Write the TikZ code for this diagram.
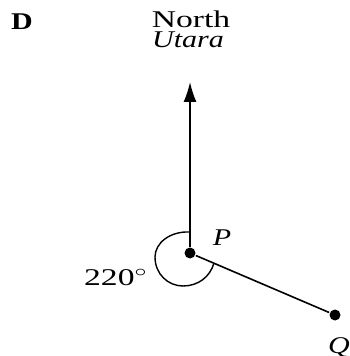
\documentclass[tikz,border=0pt]{standalone}
\usepackage{fontspec}
\setmainfont{Liberation Serif}
\usetikzlibrary{arrows.meta}
\newcommand{\wide}[2][1.25]{\scalebox{#1}[1]{#2}}
\tikzset{
  dot/.style={circle,fill,inner sep=0pt,minimum size=5.5pt},
  lbl/.style={inner sep=0pt,anchor=base,font=\fontsize{12}{14}\selectfont}
}
\begin{document}
\begin{tikzpicture}[x=0.5pt,y=-0.5pt,line width=0.8pt]
\useasboundingbox (0,0) rectangle (349,356);
\node[lbl] (labelD) at (22,30) {\wide{\textbf{D}}};
\node[lbl] (north) at (191,28) {\wide[1.4]{North}};
\node[lbl] (utara) at (188,48) {\wide{\textit{Utara}}};
\node[dot] (P) at (190,253) {};
\node[dot] (Q) at (335,315) {};
\coordinate (tip) at (190,82);
\draw[-{Latex[length=10pt,width=6.5pt]}] (P) -- (tip);
\draw (P) -- (Q);
\draw[line width=0.7pt] (190,232) .. controls (170,231) and (155,243) .. (155,257)
  .. controls (155,274) and (168,286) .. (183,286)
  .. controls (198,286) and (210,277) .. (214,263);
\node[lbl] (Plabel) at (222,245) {\wide{\textit{P}}};
\node[lbl] (angle) at (116,285) {\wide[1.4]{220$^\circ$}};
\node[lbl] (Qlabel) at (339,353) {\wide{\textit{Q}}};
\end{tikzpicture}
\end{document}
